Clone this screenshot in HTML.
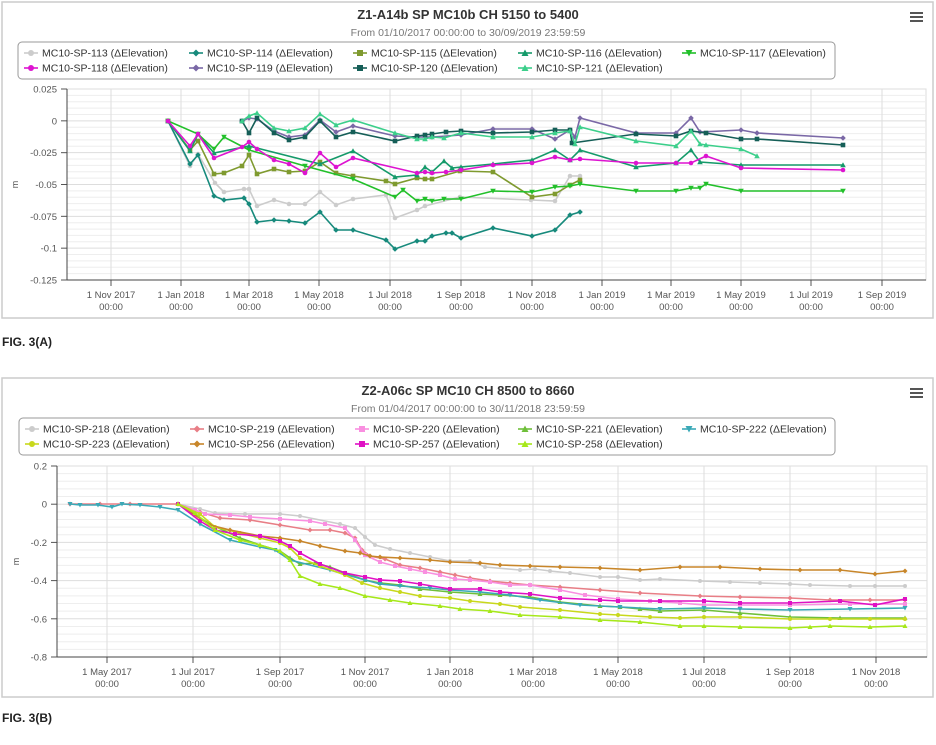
<!DOCTYPE html>
<html><head><meta charset="utf-8"><style>
body{margin:0;background:#fff;width:936px;height:745px;overflow:hidden;font-family:"Liberation Sans",sans-serif}
svg{position:absolute;left:0;top:0}
</style></head><body>
<svg id="s" width="936" height="745" xmlns="http://www.w3.org/2000/svg" font-family="Liberation Sans, sans-serif"></svg>
<script>
const S=document.getElementById('s');let h='';
function chart(o){
 h+=`<rect x="${o.bx}" y="${o.by}" width="${o.bw}" height="${o.bh}" fill="#fff" stroke="#ccc" stroke-width="1.5"/>`;
 h+=`<text x="468" y="${o.by+17}" text-anchor="middle" font-size="13" font-weight="bold" fill="#333">${o.title}</text>`;
 h+=`<text x="468" y="${o.by+34}" text-anchor="middle" font-size="10.5" fill="#777">${o.sub}</text>`;
 for(let i=0;i<3;i++)h+=`<rect x="910" y="${o.by+10+i*4}" width="13" height="2" fill="#555"/>`;
 h+=`<rect x="${o.lx}" y="${o.ly}" width="${o.lw}" height="37" rx="4" fill="#fff" stroke="#999"/>`;
 // plot
 const L=o.px0,R=o.px1,T=o.y0,B=o.y1;
 h+=`<rect x="${L}" y="${T}" width="${R-L}" height="${B-T}" fill="none" stroke="#ddd"/>`;
 const n=o.ylabels.length-1,st=(B-T)/n;
 for(let i=0;i<n*5;i++){const y=T+i*st/5;h+=`<line x1="${L}" x2="${R}" y1="${y}" y2="${y}" stroke="${i%5?'#eee':'#ddd'}"/>`;}
 o.ylabels.forEach((t,i)=>{const y=T+i*st;h+=`<text x="${L-10}" y="${y+3.5}" text-anchor="end" font-size="9.5" fill="#555">${t}</text><line x1="${L-6}" x2="${L}" y1="${y}" y2="${y}" stroke="#555"/>`;});
 o.xt.forEach(([x,t])=>{h+=`<line x1="${x}" x2="${x}" y1="${T}" y2="${B}" stroke="#ddd"/><line x1="${x}" x2="${x}" y1="${B}" y2="${B+6}" stroke="#555"/><text x="${x}" y="${B+18}" text-anchor="middle" font-size="9.5" fill="#555">${t}</text><text x="${x}" y="${B+30}" text-anchor="middle" font-size="9.5" fill="#555">00:00</text>`;});
 h+=`<line x1="${L}" x2="${L}" y1="${T}" y2="${B}" stroke="#444"/><line x1="${L}" x2="${R}" y1="${B}" y2="${B}" stroke="#444"/>`;
 h+=`<text transform="translate(${o.mx},${(T+B)/2}) rotate(-90)" text-anchor="middle" font-size="9" fill="#555">m</text>`;
 o.series.forEach((s,k)=>{
  const pts=s.p.map(p=>p.join(',')).join(' ');
  h+=`<polyline points="${pts}" fill="none" stroke="${s.c}" stroke-width="1.6"/>`;
  s.p.forEach(p=>h+=mk(s.m,p[0],p[1],s.c,o.r));
  const col=k%5,row=Math.floor(k/5),lx=o.lcols[col],ly=o.ly+11+row*15;
  h+=`<line x1="${lx}" x2="${lx+14}" y1="${ly}" y2="${ly}" stroke="${s.c}" stroke-width="1.6"/>`+mk(s.m,lx+7,ly,s.c,3);
  h+=`<text x="${lx+18}" y="${ly+3.5}" font-size="10.5" fill="#333">${s.n} (ΔElevation)</text>`;
 });
}
function mk(m,x,y,c,r){
 if(m=='c')return `<circle cx="${x}" cy="${y}" r="${r}" fill="${c}"/>`;
 if(m=='s')return `<rect x="${x-r}" y="${y-r}" width="${2*r}" height="${2*r}" fill="${c}"/>`;
 if(m=='d')return `<path d="M${x} ${y-r-.5}L${x+r+.5} ${y}L${x} ${y+r+.5}L${x-r-.5} ${y}Z" fill="${c}"/>`;
 if(m=='t')return `<path d="M${x} ${y-r-.5}L${x+r+.5} ${y+r}L${x-r-.5} ${y+r}Z" fill="${c}"/>`;
 return `<path d="M${x} ${y+r+.5}L${x+r+.5} ${y-r}L${x-r-.5} ${y-r}Z" fill="${c}"/>`;
}
const P=s=>s.trim().split(/\s+/).map(q=>q.split(',').map(Number));
chart({bx:2,by:2,bw:931,bh:316,title:"Z1-A14b SP MC10b CH 5150 to 5400",sub:"From 01/10/2017 00:00:00 to 30/09/2019 23:59:59",
 lx:18,ly:42,lw:817,lcols:[24,189,353,518,682],px0:67,px1:926,y0:89,y1:280,mx:18,r:2.3,
 ylabels:["0.025","0","-0.025","-0.05","-0.075","-0.1","-0.125"],
 xt:[[111,"1 Nov 2017"],[181,"1 Jan 2018"],[249,"1 Mar 2018"],[319,"1 May 2018"],[390,"1 Jul 2018"],[461,"1 Sep 2018"],[532,"1 Nov 2018"],[602,"1 Jan 2019"],[671,"1 Mar 2019"],[741,"1 May 2019"],[811,"1 Jul 2019"],[882,"1 Sep 2019"]],
 series:[
 {n:"MC10-SP-113",c:"#cccccc",m:"c",p:P("168,121 190,166 198,154 215,183 224,192 244,189 249,189 257,206 274,200 289,204 305,204 320,192 336,205 353,199 386,195 395,218 417,210 425,206 460,197 531,200 555,201 570,176 580,176")},
 {n:"MC10-SP-114",c:"#178a7c",m:"d",p:P("168,121 190,164 198,155 214,196 224,200 244,198 249,204 257,222 274,220 289,221 305,223 320,212 336,230 353,230 386,240 395,249 417,241 425,241 432,236 446,233 452,233 461,238 493,228 532,236 555,230 570,215 580,212")},
 {n:"MC10-SP-115",c:"#7f9a2f",m:"s",p:P("168,121 190,150 198,141 214,174 224,173 242,166 249,155 257,174 274,169 289,172 305,171 320,162 336,173 353,176 386,181 395,184 417,178 425,179 432,179 460,171 493,172 532,197 555,194 570,185 580,180")},
 {n:"MC10-SP-116",c:"#159a6a",m:"t",p:P("168,121 190,151 198,134 214,153 249,146 320,164 353,151 395,177 417,175 425,167 432,172 444,161 452,168 461,167 493,164 532,160 555,150 570,160 580,150 636,167 676,163 691,150 700,162 741,165 843,165")},
 {n:"MC10-SP-117",c:"#22c02a",m:"v",p:P("168,121 198,134 214,149 224,137 249,150 305,166 353,179 395,197 403,190 417,201 425,199 432,201 444,199 461,199 493,191 532,192 555,187 570,186 580,184 636,191 676,191 691,188 700,188 706,184 741,191 843,191")},
 {n:"MC10-SP-118",c:"#dd14d0",m:"c",p:P("168,121 190,146 198,134 214,158 242,147 249,142 257,149 274,160 289,164 305,173 320,153 336,167 353,158 417,173 425,172 432,173 446,172 461,170 493,165 532,163 555,157 570,160 580,159 636,163 676,163 691,163 706,156 741,168 843,170")},
 {n:"MC10-SP-119",c:"#7a68a6",m:"d",p:P("242,121 249,118 257,119 274,131 289,137 305,135 320,120 336,132 353,126 395,136 417,137 432,137 461,135 493,129 532,129 555,139 570,130 575,137 580,118 636,133 676,133 691,118 700,132 741,130 757,133 843,138")},
 {n:"MC10-SP-120",c:"#155e57",m:"s",p:P("242,121 249,133 257,118 274,133 289,140 305,137 320,121 336,137 353,132 395,141 417,136 425,135 432,134 446,132 461,131 493,133 532,132 555,130 570,130 572,143 636,134 676,136 691,131 706,133 741,139 757,139 843,145")},
 {n:"MC10-SP-121",c:"#3ccf8b",m:"t",p:P("242,121 249,116 257,113 274,128 289,131 305,128 320,114 336,125 353,120 395,133 417,139 425,139 432,137 444,138 461,133 493,137 532,137 555,133 570,131 575,144 580,127 636,141 676,146 691,131 700,144 706,145 741,149 757,156")}
 ]});
chart({bx:2,by:378,bw:931,bh:319,title:"Z2-A06c SP MC10 CH 8500 to 8660",sub:"From 01/04/2017 00:00:00 to 30/11/2018 23:59:59",
 lx:19,ly:418,lw:816,lcols:[25,190,355,518,682],px0:57,px1:927,y0:466,y1:657,mx:19,r:2,
 ylabels:["0.2","0","-0.2","-0.4","-0.6","-0.8"],
 xt:[[107,"1 May 2017"],[193,"1 Jul 2017"],[280,"1 Sep 2017"],[365,"1 Nov 2017"],[450,"1 Jan 2018"],[533,"1 Mar 2018"],[618,"1 May 2018"],[704,"1 Jul 2018"],[790,"1 Sep 2018"],[876,"1 Nov 2018"]],
 series:[
 {n:"MC10-SP-218",c:"#cccccc",m:"c",p:P("178,504 200,509 215,513 245,514 280,514 300,516 340,524 355,528 365,537 375,545 390,549 410,553 430,557 450,561 470,561 485,567 520,570 535,569 550,571 570,573 600,577 618,577 640,580 660,579 700,581 730,582 760,583 790,584 810,585 850,586 875,586 905,586")},
 {n:"MC10-SP-219",c:"#e87e86",m:"d",p:P("70,504 100,504 130,504 178,504 200,512 220,518 250,520 280,525 310,530 330,530 345,533 355,538 362,550 370,556 385,559 400,565 420,568 440,572 455,575 470,578 490,581 510,583 530,585 560,587 600,590 640,593 700,596 740,597 790,598 830,600 870,600 905,600")},
 {n:"MC10-SP-220",c:"#f98fe0",m:"s",p:P("178,504 195,510 205,514 230,515 250,517 280,519 310,521 325,524 345,528 355,540 365,555 380,562 395,566 410,569 425,572 440,575 455,579 470,580 490,582 510,585 530,585 560,590 585,595 618,599 650,601 680,603 704,605 740,605 790,605 850,604 905,604")},
 {n:"MC10-SP-221",c:"#6fbf3a",m:"t",p:P("178,504 210,524 240,538 260,545 280,551 290,558 300,564 315,563 330,567 345,573 365,580 380,583 400,585 420,589 450,592 480,594 500,595 530,597 560,602 600,606 620,607 640,609 660,611 704,610 740,613 790,617 840,618 905,618")},
 {n:"MC10-SP-222",c:"#3aa9b7",m:"v",p:P("70,504 80,505 98,505 112,507 122,504 140,505 160,507 178,510 200,524 230,540 260,547 275,550 290,560 330,570 365,580 380,584 400,586 430,588 450,590 480,592 510,595 540,600 580,605 620,607 660,609 704,608 740,609 790,610 850,609 905,608")},
 {n:"MC10-SP-223",c:"#c8d81c",m:"c",p:P("178,504 200,514 215,527 240,533 260,538 280,543 290,548 300,558 320,566 345,575 362,583 380,588 400,592 420,596 450,598 470,601 500,604 520,607 560,610 600,614 618,615 650,617 680,618 704,617 740,617 790,619 830,619 870,619 905,619")},
 {n:"MC10-SP-256",c:"#c8862a",m:"d",p:P("178,504 210,525 230,530 260,536 280,538 300,541 320,546 345,551 360,553 370,556 380,557 400,558 430,560 450,562 480,563 500,565 530,566 560,567 600,568 640,570 680,567 720,567 760,569 800,570 840,570 875,574 905,571")},
 {n:"MC10-SP-257",c:"#e011c4",m:"s",p:P("178,504 200,521 215,530 235,534 260,536 280,541 290,546 300,553 320,564 345,573 365,577 380,580 400,581 420,584 450,589 480,589 500,592 530,594 560,598 600,600 618,601 660,601 704,601 740,603 790,603 840,601 875,605 905,599")},
 {n:"MC10-SP-258",c:"#a6e81a",m:"t",p:P("178,504 195,513 215,530 240,540 260,545 280,551 290,560 300,576 320,584 340,588 365,596 390,600 410,603 440,606 460,609 490,611 520,615 560,617 600,620 640,622 680,626 704,626 740,627 790,628 810,627 830,626 870,627 905,626")}
 ]});
h+=`<text x="2" y="346" font-size="12" font-weight="bold" fill="#222">FIG. 3(A)</text>`;
h+=`<text x="2" y="722" font-size="12" font-weight="bold" fill="#222">FIG. 3(B)</text>`;
S.innerHTML=h;
</script>
</body></html>
